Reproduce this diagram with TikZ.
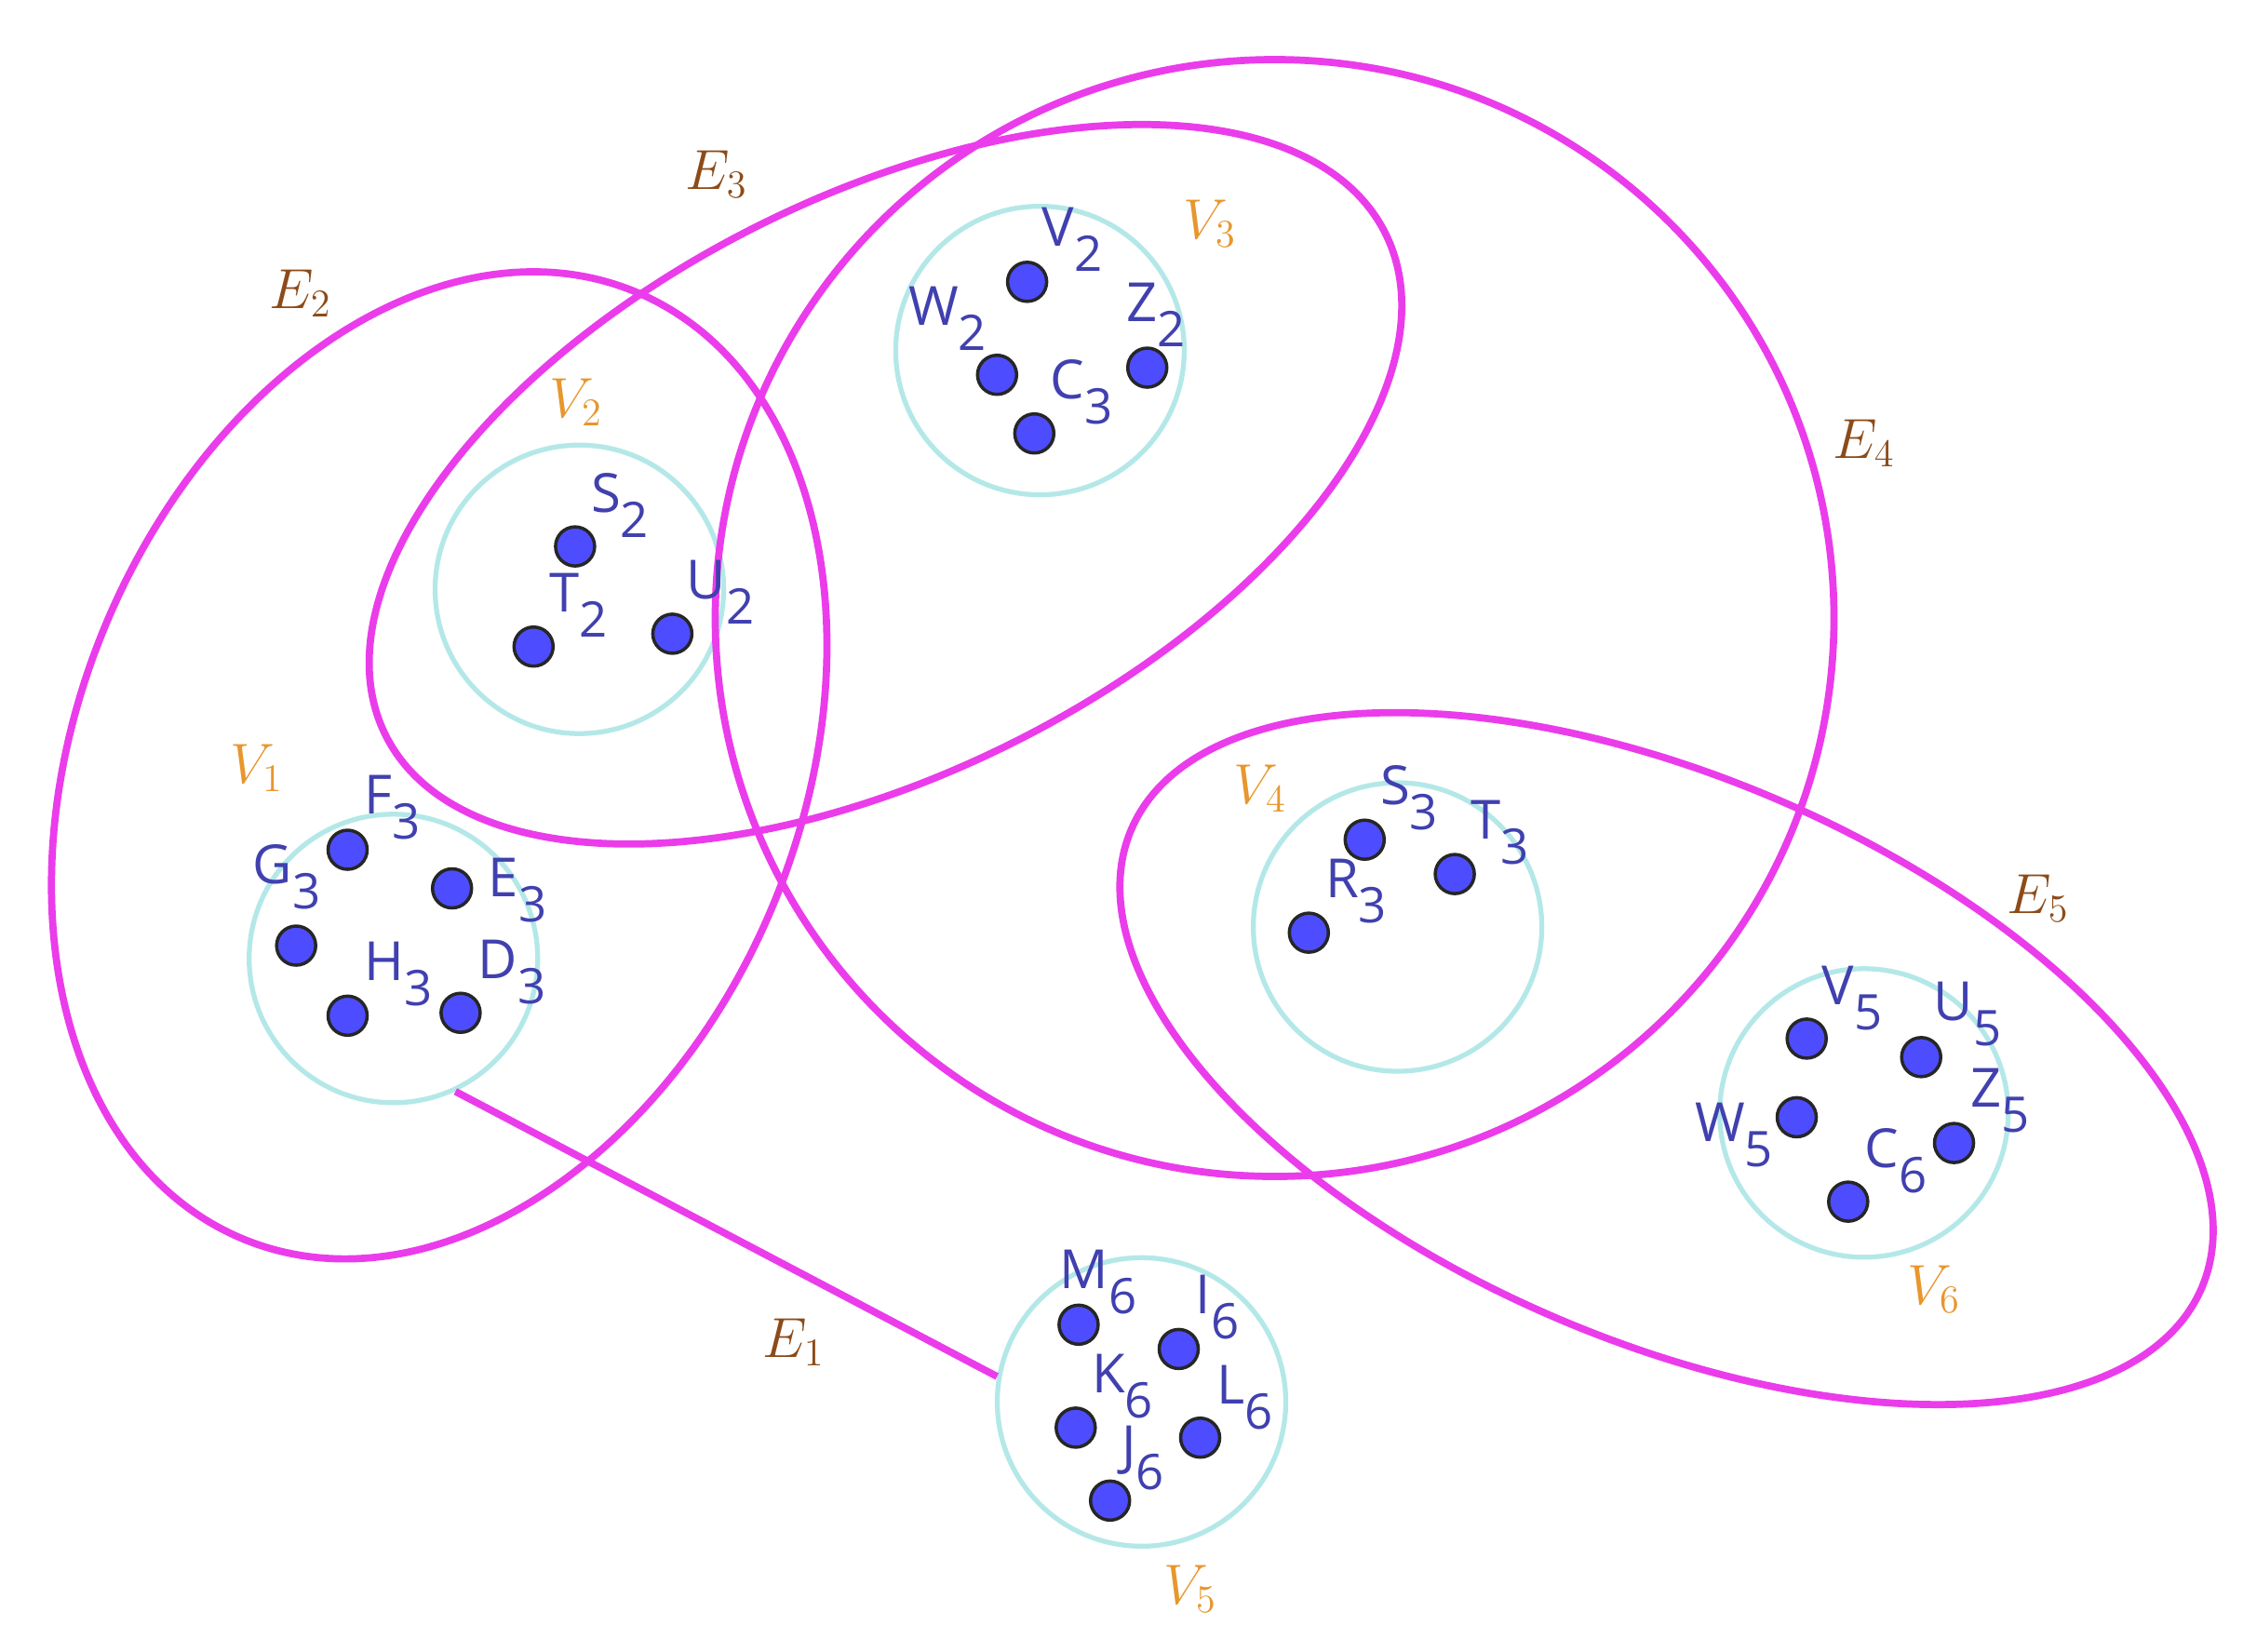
\documentclass[tikz,border=0pt]{standalone}
\usepackage{fontspec}
\newfontfamily\lblfont{Open Sans}
\definecolor{hedge}{RGB}{235,60,235}
\definecolor{vset}{RGB}{180,232,232}
\definecolor{ptfill}{RGB}{77,77,255}
\definecolor{ptlab}{RGB}{64,64,175}
\definecolor{vlab}{RGB}{232,150,45}
\definecolor{elab}{RGB}{140,75,25}
\newcommand{\plab}[2]{#1\raisebox{-0.27cm}{\fontsize{15}{15}\selectfont #2}}
\begin{document}
\begin{tikzpicture}[
  vsetc/.style={circle, draw=vset, line width=1.5pt, minimum size=3.1cm, inner sep=0pt},
  pt/.style={circle, fill=ptfill, draw=black!85, line width=1pt, minimum size=0.42cm, inner sep=0pt},
  ptl/.style={text=ptlab, font=\lblfont\fontsize{16.5}{16.5}\selectfont, inner sep=0pt},
  vl/.style={text=vlab, font=\fontsize{17}{17}\selectfont, inner sep=0pt},
  el/.style={text=elab, font=\fontsize{17}{17}\selectfont, inner sep=0pt},
  hyper/.style={draw=hedge, line width=2.2pt}
]
\fill[white] (0,0) rectangle (24.10,-17.74);
\useasboundingbox (0,0) rectangle (24.10,-17.74);

% vertex-set circles
\node[vsetc] (v1) at (4.227,-10.298) {};
\node[vsetc] (v2) at (6.225,-6.332) {};
\node[vsetc] (v3) at (11.174,-3.766) {};
\node[vsetc] (v4) at (15.016,-9.960) {};
\node[vsetc] (v6) at (20.027,-11.958) {};
\node[vsetc] (v5) at (12.265,-15.063) {};

% hyperedges
\draw[hyper, shift={(4.719,-8.223)}, rotate=67.5] (0,0) ellipse [x radius=5.508, y radius=3.889];
\draw[hyper, shift={(9.514,-5.203)}, rotate=26.7] (0,0) ellipse [x radius=6.01, y radius=3.096];
\draw[hyper, shift={(13.695,-6.640)}] (0,0) ellipse [x radius=6.01, y radius=6.00];
\draw[hyper, shift={(17.906,-11.374)}, rotate=-23.2] (0,0) ellipse [x radius=6.256, y radius=3.028];
\draw[hyper] (v1.-65) -- (v5.170);

% points
\foreach \n/\x/\y in {F3/3.735/-9.130, E3/4.857/-9.545, G3/3.182/-10.160, H3/3.735/-10.913, D3/4.949/-10.882,
  S2/6.179/-5.871, T2/5.733/-6.947, U2/7.224/-6.809,
  V2/11.036/-3.028, W2/10.713/-4.027, Z2/12.327/-3.950, C3/11.113/-4.657,
  S3/14.663/-9.022, T3/15.631/-9.391, R3/14.063/-10.021,
  V5/19.412/-11.159, U5/20.642/-11.358, W5/19.305/-12.004, Z5/20.995/-12.281, C6/19.858/-12.911,
  M6/11.589/-14.233, I6/12.665/-14.494, K6/11.558/-15.339, L6/12.895/-15.447, J6/11.927/-16.123}
  \node[pt] (p\n) at (\x,\y) {};

% point labels
\foreach \n/\a/\b/\x/\y in {F3/F/3/4.22/-8.68, G3/G/3/3.08/-9.42, E3/E/3/5.56/-9.57, H3/H/3/4.28/-10.47, D3/D/3/5.50/-10.45,
  S2/S/2/6.66/-5.43, T2/T/2/6.22/-6.50, U2/U/2/7.74/-6.36,
  V2/V/2/11.52/-2.57, W2/W/2/10.18/-3.42, Z2/Z/2/12.42/-3.38, C3/C/3/11.62/-4.21,
  S3/S/3/15.14/-8.57, T3/T/3/16.12/-8.95, R3/R/3/14.57/-9.58,
  V5/V/5/19.90/-10.73, U5/U/5/21.14/-10.90, W5/W/5/18.63/-12.20, Z5/Z/5/21.49/-11.83, C6/C/6/20.37/-12.47,
  M6/M/6/11.80/-13.78, I6/I/6/13.08/-14.05, K6/K/6/12.06/-14.90, L6/L/6/13.38/-15.02, J6/J/6/12.28/-15.67}
  \node[ptl] (l\n) at (\x,\y) {\plab{\a}{\b}};

% vertex-set labels
\node[vl] (lv1) at (2.76,-8.25) {$V_1$};
\node[vl] (lv2) at (6.19,-4.32) {$V_2$};
\node[vl] (lv3) at (13.00,-2.40) {$V_3$};
\node[vl] (lv4) at (13.54,-8.47) {$V_4$};
\node[vl] (lv6) at (20.78,-13.85) {$V_6$};
\node[vl] (lv5) at (12.79,-17.07) {$V_5$};

% hyperedge labels
\node[el] (le1) at (8.53,-14.42) {$E_1$};
\node[el] (le2) at (3.23,-3.15) {$E_2$};
\node[el] (le3) at (7.70,-1.87) {$E_3$};
\node[el] (le4) at (20.03,-4.76) {$E_4$};
\node[el] (le5) at (21.90,-9.65) {$E_5$};
\end{tikzpicture}
\end{document}
